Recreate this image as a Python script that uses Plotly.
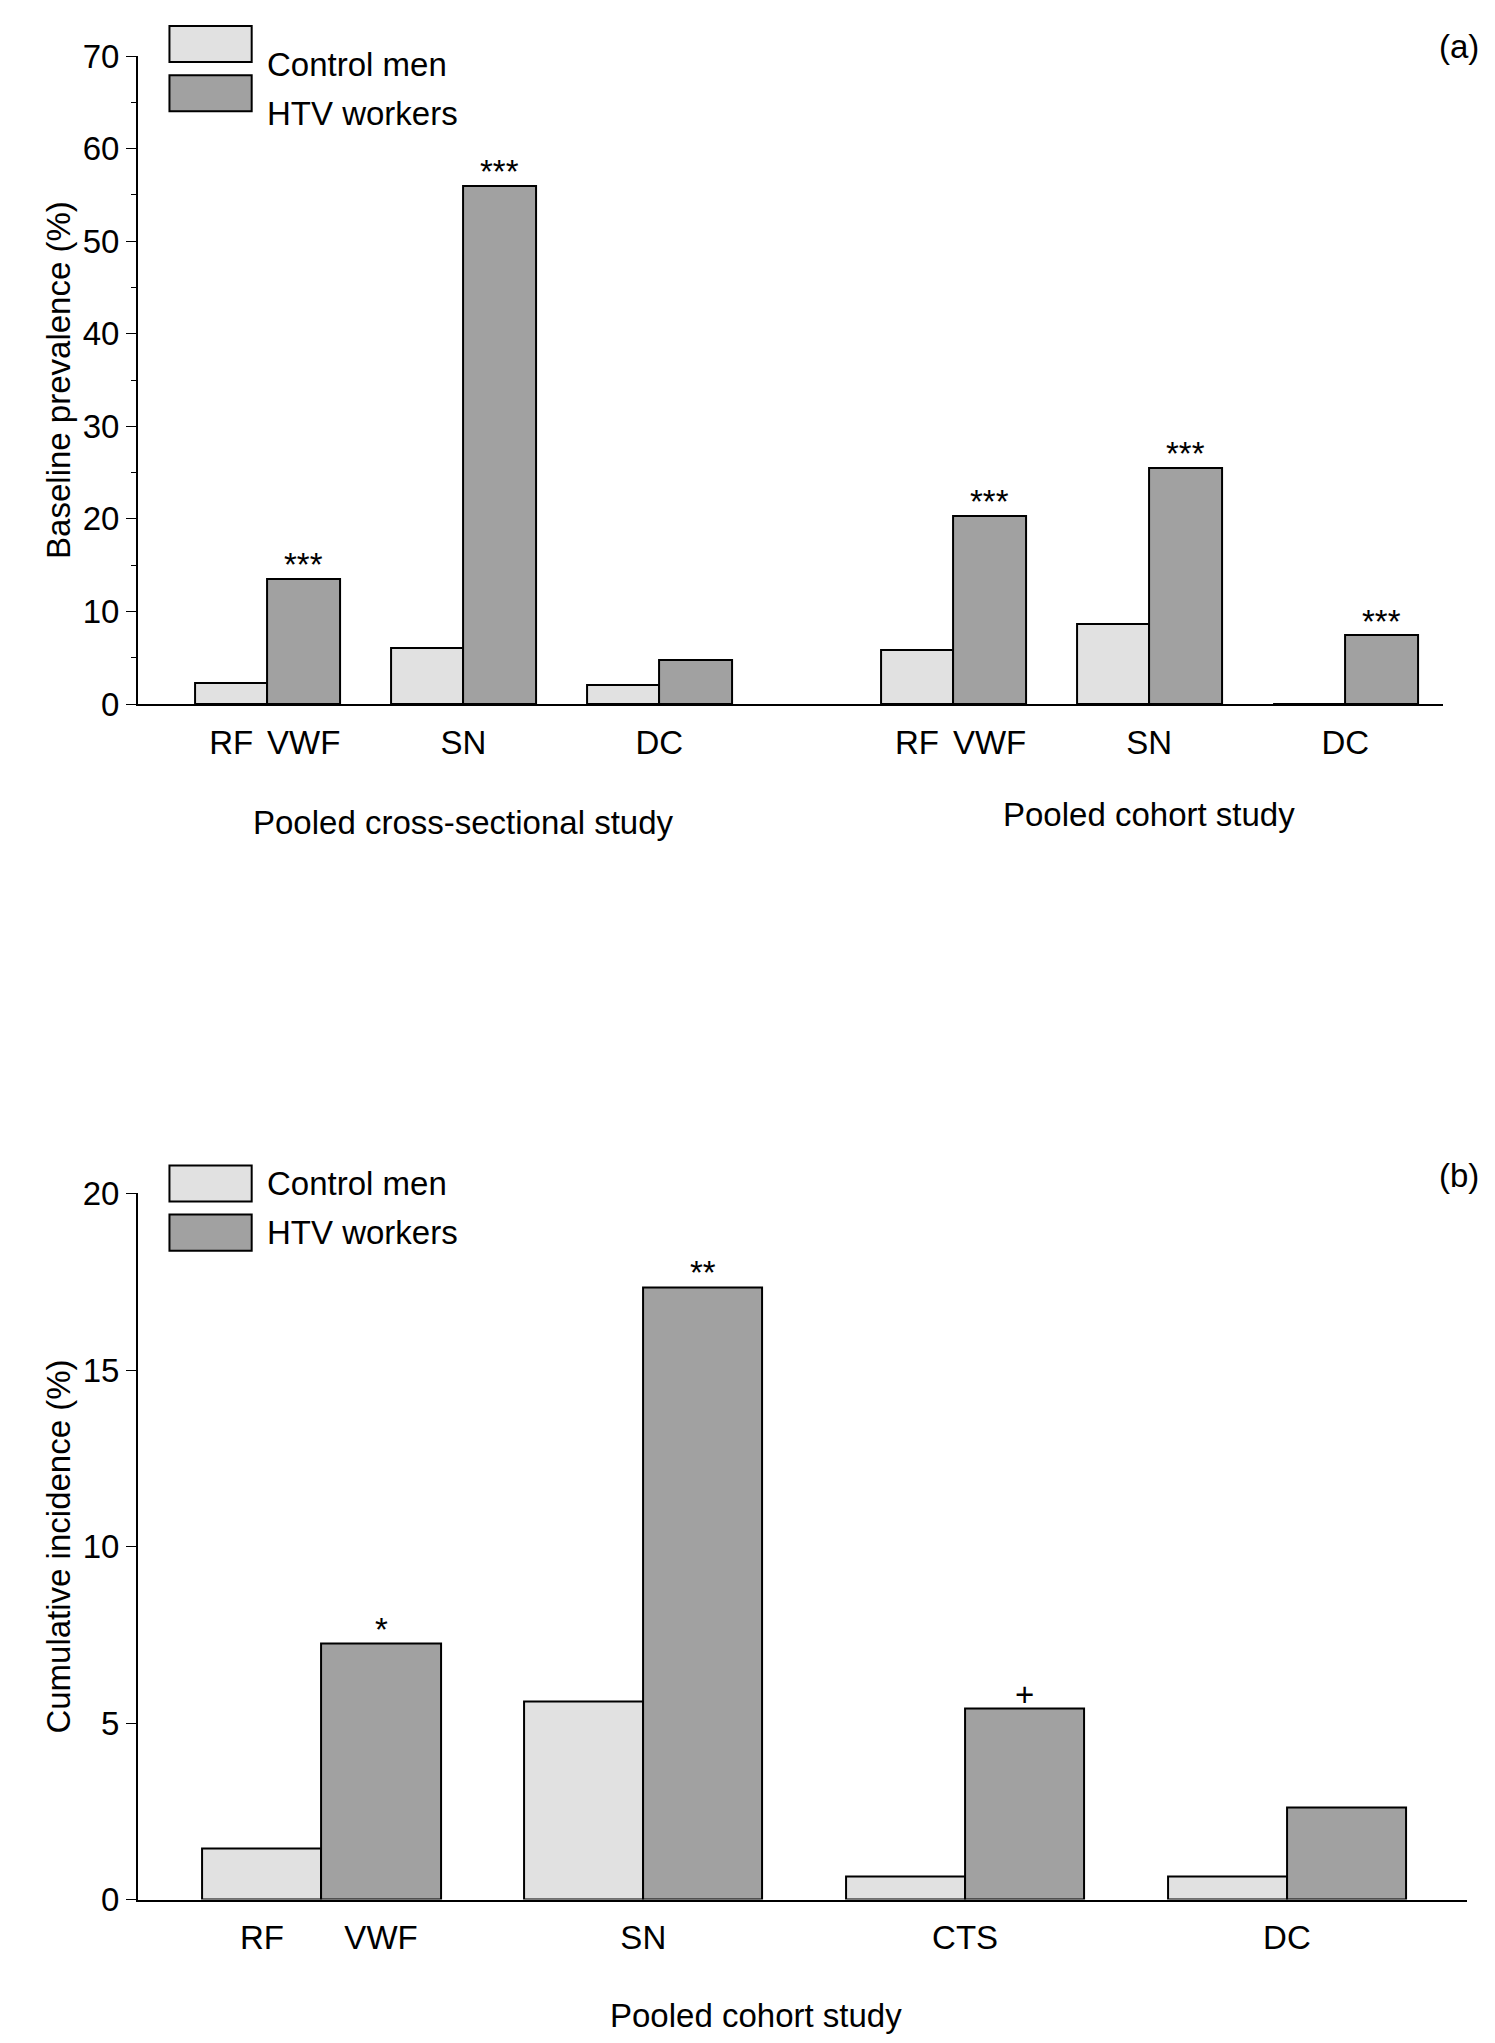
import plotly.graph_objects as go

# Panel (a)
a_groups = ["RF VWF", "SN", "DC", "RF VWF", "SN", "DC"]
a_pos = [0, 1, 2, 3.5, 4.5, 5.5]
a_control = [2.3, 6.0, 2.1, 5.8, 8.6, 0.0]
a_htv = [13.5, 56.0, 4.8, 20.3, 25.5, 7.4]
a_sig = ["***", "***", "", "***", "***", "***"]
a_studies = ["Pooled cross-sectional study", "Pooled cohort study"]

# Panel (b)
b_groups = ["RF VWF", "SN", "CTS", "DC"]
b_pos = [0, 1, 2, 3]
b_control = [1.45, 5.6, 0.65, 0.65]
b_htv = [7.25, 17.35, 5.4, 2.6]
b_sig = ["*", "**", "+", ""]
b_study = "Pooled cohort study"

series_names = ["Control men", "HTV workers"]
colors = ["#e1e1e1", "#a1a1a1"]
W = 0.37
FONT = "Liberation Sans, Arial, sans-serif"
FS = 33
F = dict(size=FS, family=FONT, color="black")

fig = go.Figure()
ann = []
shapes = []

def add_panel(pos, ctrl, htv, sig, groups, xa, ya):
    fig.add_trace(go.Bar(x=pos, y=ctrl, width=W, offset=-W, marker=dict(color=colors[0], line=dict(color="black", width=2)),
                         xaxis=xa, yaxis=ya, showlegend=False))
    fig.add_trace(go.Bar(x=pos, y=htv, width=W, offset=0, marker=dict(color=colors[1], line=dict(color="black", width=2)),
                         xaxis=xa, yaxis=ya, showlegend=False))
    for p, v, s in zip(pos, htv, sig):
        if s:
            ann.append(dict(x=p + W / 2, y=v, xref=xa, yref=ya, text=s, showarrow=False, yanchor="bottom",
                            yshift=-6, font=F))
    tv, tt = [], []
    for p, g in zip(pos, groups):
        if " " in g:
            l, r = g.split(" ")
            tv += [p - W / 2, p + W / 2]; tt += [l, r]
        else:
            tv.append(p); tt.append(g)
    return tv, tt

tva, tta = add_panel(a_pos, a_control, a_htv, a_sig, a_groups, "x", "y")
tvb, ttb = add_panel(b_pos, b_control, b_htv, b_sig, b_groups, "x2", "y2")

ann.append(dict(x=1, y=0.603, xref="x", yref="paper", text=a_studies[0], showarrow=False, font=F))
ann.append(dict(x=4.5, y=0.607, xref="x", yref="paper", text=a_studies[1], showarrow=False, font=F))
ann.append(dict(x=1.35, y=-0.002, xref="x2", yref="paper", text=b_study, showarrow=False, yanchor="bottom", font=F))
ann.append(dict(x=0.985, y=1.0, xref="paper", yref="paper", text="(a)", showarrow=False, xanchor="right", yanchor="top", font=F))
ann.append(dict(x=0.985, y=0.437, xref="paper", yref="paper", text="(b)", showarrow=False, xanchor="right", yanchor="top", font=F))

def legend(ytop):
    for i, (n, c) in enumerate(zip(series_names, colors)):
        y0 = ytop - i * 0.0245
        shapes.append(dict(type="rect", xref="paper", yref="paper", x0=0.108, x1=0.163, y0=y0 - 0.018, y1=y0,
                           fillcolor=c, line=dict(color="black", width=2)))
        ann.append(dict(x=0.172, y=y0 - 0.009, xref="paper", yref="paper", text=n, showarrow=False, xanchor="left", font=F))
legend(1.0)
legend(0.432)

axcommon = dict(showline=True, linecolor="black", linewidth=2, showgrid=False, zeroline=False, tickfont=F)
fig.update_layout(
    width=1495, height=2043, plot_bgcolor="white", paper_bgcolor="white", font=F,
    margin=dict(l=0, r=0, t=0, b=0), bargap=0, annotations=ann, shapes=shapes,
    xaxis=dict(axcommon, domain=[0.087, 0.96], range=[-0.66, 6.0], tickvals=tva, ticktext=tta, ticks="", anchor="y", ticklabelstandoff=8),
    yaxis=dict(axcommon, domain=[0.662, 0.985], range=[0, 70], tickvals=list(range(0, 71, 10)), ticks="outside", ticklen=10,
               minor=dict(tickvals=list(range(5, 70, 10)), ticks="outside", ticklen=5, tickcolor="black"), tickcolor="black", anchor="x",
               title=dict(text="Baseline prevalence (%)", font=F, standoff=2)),
    xaxis2=dict(axcommon, domain=[0.087, 0.976], range=[-0.57, 3.56], tickvals=tvb, ticktext=ttb, ticks="", anchor="y2", ticklabelstandoff=8),
    yaxis2=dict(axcommon, domain=[0.066, 0.418], range=[0, 20], tickvals=[0, 5, 10, 15, 20], ticks="outside", ticklen=10, tickcolor="black", anchor="x2",
                title=dict(text="Cumulative incidence (%)", font=F, standoff=2)),
)
fig.write_html("out.html")
